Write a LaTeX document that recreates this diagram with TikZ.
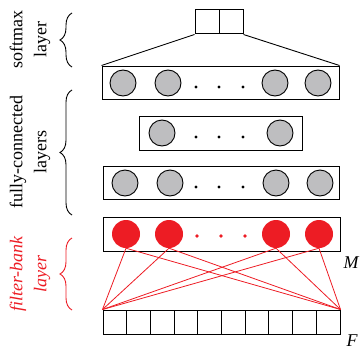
\documentclass[tikz,border=0pt]{standalone}
\usepackage{fontspec}
\setmainfont{Liberation Serif}
\usetikzlibrary{decorations.pathreplacing}
\definecolor{unitgray}{RGB}{190,190,192}
\definecolor{fbred}{RGB}{237,28,36}
\tikzset{
  layerbox/.style={draw=black, line width=1pt, inner sep=0pt, minimum height=33pt},
  unit/.style={circle, draw=black, line width=0.9pt, fill=unitgray, inner sep=0pt, minimum size=26pt},
  redunit/.style={circle, fill=fbred, inner sep=0pt, minimum size=28pt},
  dotmark/.style={circle, fill=black, inner sep=0pt, minimum size=3.2pt},
  reddot/.style={circle, fill=fbred, inner sep=0pt, minimum size=3.6pt},
  cell/.style={draw=black, line width=1pt, inner sep=0pt, minimum width=23.7pt, minimum height=24pt},
  smcell/.style={draw=black, line width=1pt, inner sep=0pt, minimum size=24pt},
  wire/.style={draw=black, line width=0.9pt},
  redwire/.style={draw=fbred, line width=0.8pt},
  bracket/.style={decorate, decoration={brace, amplitude=12pt}, line width=0.9pt},
  sidelabel/.style={rotate=90, align=center, font=\fontsize{18}{24}\selectfont},
  dimlabel/.style={font=\fontsize{18}{22}\selectfont\itshape}
}
\begin{document}
\begin{tikzpicture}[x=1pt, y=-1pt]
\useasboundingbox (0,0) rectangle (363,345);

% softmax output units
\node[smcell] (sm1) at (207,22) {};
\node[smcell] (sm2) at (231,22) {};

% top fully-connected layer
\node[layerbox, minimum width=237pt] (L3) at (220.5,82.5) {};
\node[unit] (a1) at (123,83) {};
\node[unit] (a2) at (168,83) {};
\node[unit] (a3) at (275,83) {};
\node[unit] (a4) at (318,83) {};
\node[dotmark] (ad1) at (196,87) {};
\node[dotmark] (ad2) at (219,87) {};
\node[dotmark] (ad3) at (243,87) {};

% middle fully-connected layer
\node[layerbox, minimum width=163pt, minimum height=34pt] (L2) at (220.5,133) {};
\node[unit] (b1) at (162,133) {};
\node[unit] (b2) at (280,133) {};
\node[dotmark] (bd1) at (196,137) {};
\node[dotmark] (bd2) at (219,137) {};
\node[dotmark] (bd3) at (243,137) {};

% lower fully-connected layer
\node[layerbox, minimum width=236pt] (L1) at (221,182.5) {};
\node[unit] (c1) at (125,183) {};
\node[unit] (c2) at (170,183) {};
\node[unit] (c3) at (276,183) {};
\node[unit] (c4) at (320,183) {};
\node[dotmark] (cd1) at (196,187) {};
\node[dotmark] (cd2) at (219,187) {};
\node[dotmark] (cd3) at (243,187) {};

% filter-bank layer
\node[layerbox, minimum width=237pt, minimum height=34pt] (FB) at (221.5,234) {};
\node[redunit] (r1) at (126,234) {};
\node[redunit] (r2) at (169,234) {};
\node[redunit] (r3) at (276,234) {};
\node[redunit] (r4) at (319,234) {};
\node[reddot] (rd1) at (197,236) {};
\node[reddot] (rd2) at (221,236) {};
\node[reddot] (rd3) at (245,236) {};

% input feature cells
\foreach \i in {1,...,10} {
  \node[cell] (f\i) at ({103+23.7*(\i-0.5)},322) {};
}

% softmax fan-in
\draw[wire] (sm1.south west) -- (L3.north west);
\draw[wire] (sm2.south east) -- (L3.north east);

% filter-bank connections
\foreach \r in {r1,r2,r3,r4} {
  \draw[redwire] (\r.south) -- (f1.north west);
  \draw[redwire] (\r.south) -- (f10.north east);
}

% dimension labels
\node[dimlabel] (Mlab) at (351,263) {M};
\node[dimlabel] (Flab) at (352,341) {F};

% braces and layer names
\coordinate (sbB) at (72,67);
\coordinate (sbT) at (72,13);
\draw[bracket] (sbB) -- (sbT);
\node[sidelabel] (smlab) at (30,40) {softmax\\layer};

\coordinate (fcB) at (72,215);
\coordinate (fcT) at (72,90);
\draw[bracket] (fcB) -- (fcT);
\node[sidelabel] (fclab) at (30,152) {fully-connected\\layers};

\coordinate (fbB) at (72,310);
\coordinate (fbT) at (72,238);
\draw[bracket, fbred] (fbB) -- (fbT);
\node[sidelabel, text=fbred, font=\fontsize{18}{24}\selectfont\itshape] (fblab) at (30,274) {filter-bank\\layer};
\end{tikzpicture}
\end{document}
